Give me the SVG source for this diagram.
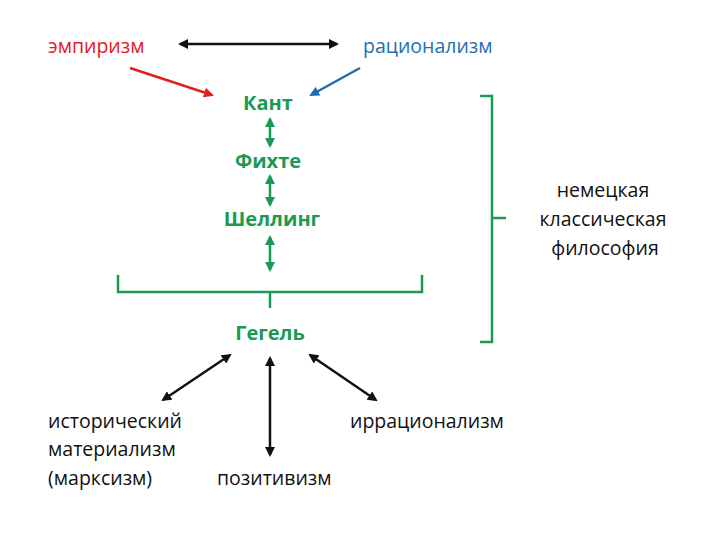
<svg xmlns="http://www.w3.org/2000/svg" width="720" height="540" viewBox="0 0 720 540">
<style>
text{font-family:"Open Sans",Lato,sans-serif;font-size:19.5px}
.g{fill:#1a9a52;font-weight:bold;text-anchor:middle;font-size:20px}
.k{fill:#111}
.gl{stroke:#1a9a52;stroke-width:2.5;fill:none}
.bl{stroke:#111;stroke-width:2.5;fill:none}
</style>
<defs>
<marker id="ak" viewBox="0 0 10 10" refX="8" refY="5" markerWidth="4" markerHeight="4" orient="auto-start-reverse"><path d="M0,0L10,5L0,10z" fill="#111"/></marker>
<marker id="ag" viewBox="0 0 10 10" refX="8" refY="5" markerWidth="4" markerHeight="4" orient="auto-start-reverse"><path d="M0,0L10,5L0,10z" fill="#1a9a52"/></marker>
<marker id="ar" viewBox="0 0 10 10" refX="8" refY="5" markerWidth="4" markerHeight="4" orient="auto"><path d="M0,0L10,5L0,10z" fill="#e02020"/></marker>
<marker id="ab" viewBox="0 0 10 10" refX="8" refY="5" markerWidth="4" markerHeight="4" orient="auto"><path d="M0,0L10,5L0,10z" fill="#1f6fb0"/></marker>
</defs>
<g id="empirizm"><text x="48" y="53" fill="#e02020">эмпиризм</text></g>
<g id="racionalizm"><text x="363" y="53" fill="#1f6fb0">рационализм</text></g>
<g id="kant"><text class="g" x="268" y="110">Кант</text></g>
<g id="fichte"><text class="g" x="268" y="168">Фихте</text></g>
<g id="schelling"><text class="g" x="272" y="226">Шеллинг</text></g>
<g id="hegel"><text class="g" x="270" y="340">Гегель</text></g>
<g id="nkf"><text x="603" y="197" class="k" text-anchor="middle">немецкая</text><text x="603" y="226" class="k" text-anchor="middle">классическая</text><text x="605" y="255" class="k" text-anchor="middle">философия</text></g>
<g id="histmat"><text x="48" y="428" class="k">исторический</text><text x="48" y="456" class="k">материализм</text><text x="48" y="485" class="k">(марксизм)</text></g>
<g id="positivism"><text x="217" y="485" class="k">позитивизм</text></g>
<g id="irr"><text x="350" y="428" class="k">иррационализм</text></g>
<g id="connectors">
<line class="bl" x1="180" y1="44" x2="337" y2="44" marker-start="url(#ak)" marker-end="url(#ak)"/>
<line x1="130" y1="68" x2="212" y2="95" stroke="#e02020" stroke-width="2.5" marker-end="url(#ar)"/>
<line x1="360" y1="68" x2="311" y2="95" stroke="#1f6fb0" stroke-width="2.5" marker-end="url(#ab)"/>
<line class="gl" x1="270" y1="119" x2="270" y2="146" marker-start="url(#ag)" marker-end="url(#ag)"/>
<line class="gl" x1="270" y1="176" x2="270" y2="205" marker-start="url(#ag)" marker-end="url(#ag)"/>
<line class="gl" x1="270" y1="237" x2="270" y2="270" marker-start="url(#ag)" marker-end="url(#ag)"/>
<path class="gl" d="M118,275V292H422V275M270,292V308"/>
<path class="gl" d="M480,96H492V342H480M492,218H506"/>
<line class="bl" x1="230" y1="355" x2="163" y2="400" marker-start="url(#ak)" marker-end="url(#ak)"/>
<line class="bl" x1="270" y1="358" x2="270" y2="455" marker-start="url(#ak)" marker-end="url(#ak)"/>
<line class="bl" x1="310" y1="355" x2="376" y2="400" marker-start="url(#ak)" marker-end="url(#ak)"/>
</g>
</svg>
